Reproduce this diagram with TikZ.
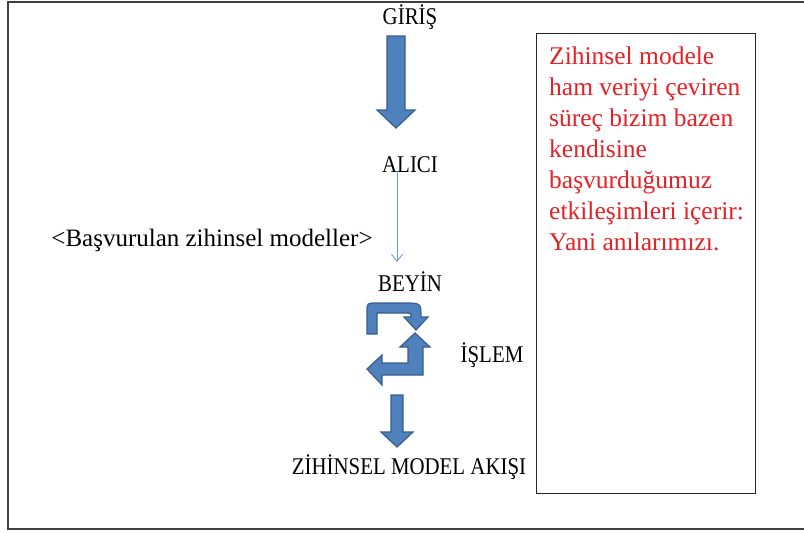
\documentclass[tikz,border=0pt]{standalone}
\usepackage{fontspec}
\setmainfont{Liberation Serif}
\usetikzlibrary{positioning, calc, arrows.meta}

\definecolor{arrowblue}{RGB}{79,129,189}
\definecolor{arrowedge}{RGB}{56,93,138}
\definecolor{linkblue}{RGB}{110,155,215}
\definecolor{noteRed}{RGB}{232,32,38}

% narrow caps text
\newcommand{\capstext}[1]{\scalebox{0.87}[1]{#1}}

\begin{document}
\begin{tikzpicture}[
    x=1pt, y=-1pt,
    % Styling
    caps label/.style={
        font=\fontsize{24}{28}\selectfont,
        inner sep=0pt
    },
    side label/.style={
        font=\fontsize{25}{30}\selectfont,
        inner sep=0pt
    },
    % Filled block arrows
    block arrow/.style={
        fill=arrowblue,
        draw=arrowedge,
        line width=1.2pt,
        line join=miter
    },
    % Thin connector
    thin link/.style={
        -{Straight Barb[length=7pt, width=11pt]},
        color=linkblue,
        line width=0.9pt
    },
    note box/.style={
        draw=black!85,
        line width=1pt
    },
    note text/.style={
        font=\fontsize{25.5}{31}\selectfont,
        text=noteRed,
        align=left,
        inner sep=0pt
    },
    frame/.style={
        draw=black!75,
        line width=1.6pt
    }
]

\useasboundingbox (0,0) rectangle (804,533);

% --- Outer frame ---
\draw[frame] (8,2) rectangle (815,529);

% --- Labels ---
\node[caps label] (giris) at (410,17) {\capstext{GİRİŞ}};
\node[caps label] (alici) at (410,165) {\capstext{ALICI}};
\node[caps label] (beyin) at (410,282) {\capstext{BEYİN}};
\node[caps label] (islem) at (492,355) {\capstext{İŞLEM}};
\node[caps label] (akis) at (409,467) {\capstext{ZİHİNSEL MODEL AKIŞI}};
\node[side label] (modeller) at (212,240) {<Başvurulan zihinsel modeller>};

% --- Straight block arrows ---
% Format: centre x / top / head base / tip / shaft half width / head half width
\foreach \cx/\top/\hb/\tip/\sw/\hw in {396/36/110/128/9/19, 397/395/432/447/6/16} {
    \draw[block arrow]
        (\cx-\sw,\top) -- (\cx+\sw,\top) -- (\cx+\sw,\hb) -- (\cx+\hw,\hb)
        -- (\cx,\tip) -- (\cx-\hw,\hb) -- (\cx-\sw,\hb) -- cycle;
}

% --- Thin arrow from ALICI to BEYIN ---
\coordinate (recv) at (397,171);
\coordinate (brain) at (397,262);
\draw[thin link] (recv) -- (brain);

% --- Process loop (U-turn and bent-up arrows) ---
\draw[block arrow]
    (367,334) -- (367,312) .. controls (367,303) .. (376,303)
    -- (404,303) .. controls (421,303) .. (421,317)
    -- (428,317) -- (416,330) -- (404,317) -- (411,317)
    .. controls (411,313) .. (404,313)
    -- (377,313) -- (377,334) -- cycle;

\draw[block arrow]
    (367,369) -- (382,355) -- (382,363) -- (408,363) -- (408,347)
    -- (400,347) -- (415,333) -- (430,347) -- (423,347) -- (423,375)
    -- (382,375) -- (382,385) -- cycle;

% --- Note box ---
\draw[note box] (536,33) rectangle (755,493);
\node[note text, anchor=base west] (note) at (549,250) {
    Zihinsel modele\\
    ham veriyi çeviren\\
    süreç bizim bazen\\
    kendisine\\
    başvurduğumuz\\
    etkileşimleri içerir:\\
    Yani anılarımızı.
};

\end{tikzpicture}
\end{document}
